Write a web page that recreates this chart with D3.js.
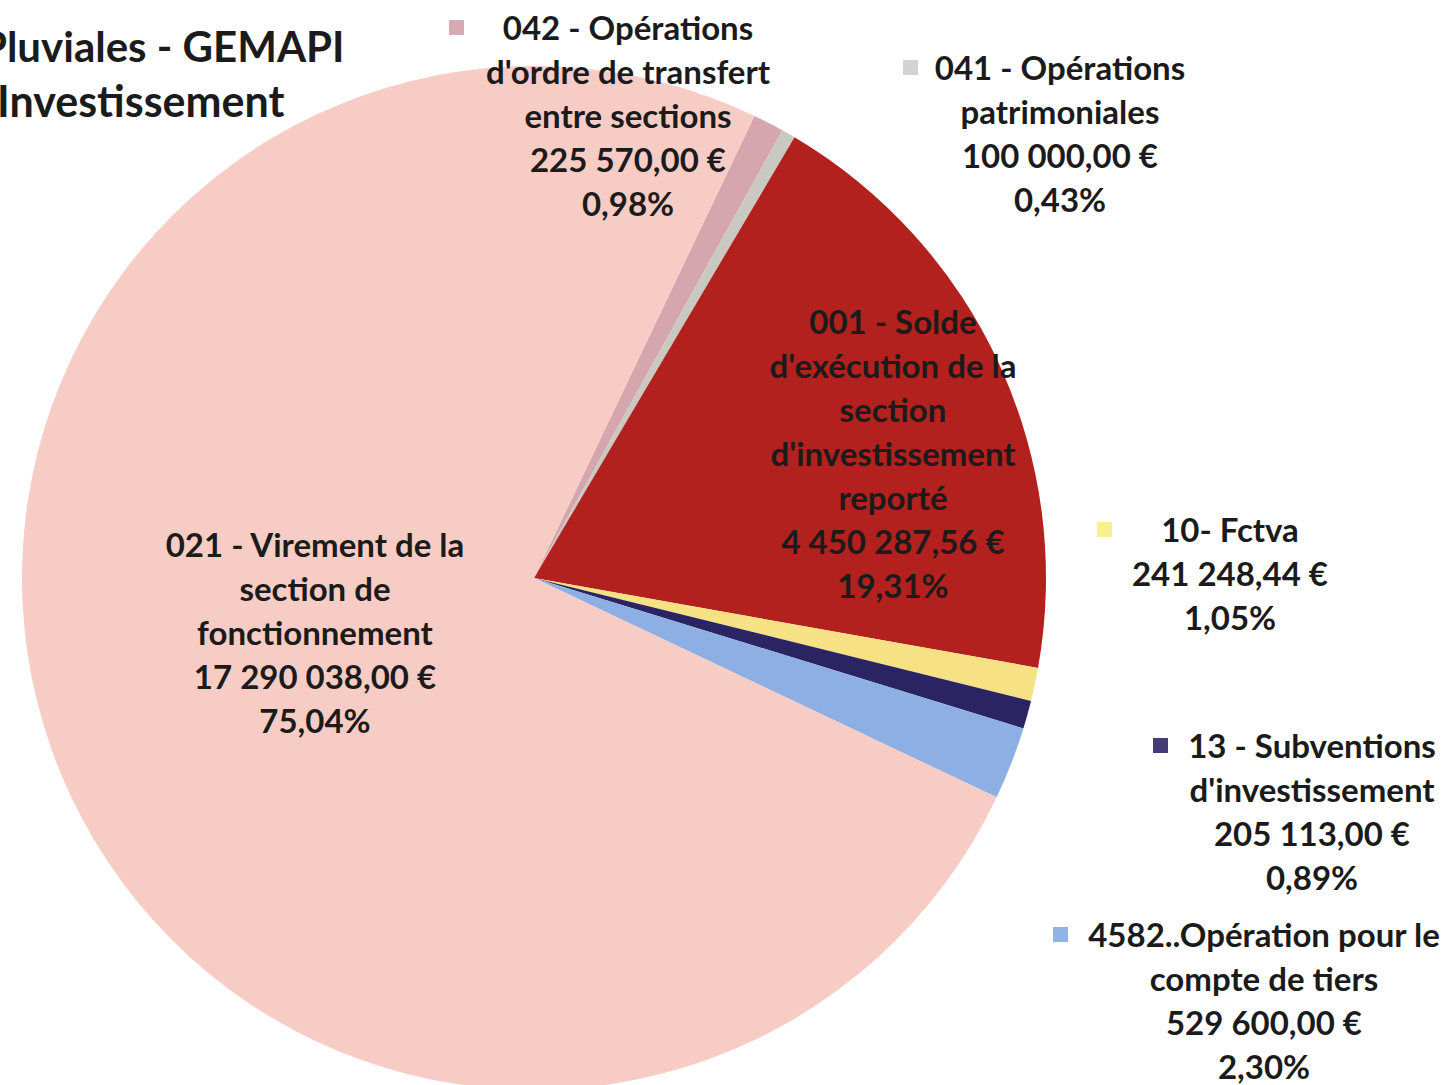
<!DOCTYPE html>
<html>
<head>
<meta charset="utf-8">
<script src="https://cdn.jsdelivr.net/npm/d3@7"></script>
<style>
  html, body { margin: 0; padding: 0; background: #fff; overflow: hidden; }
  svg text { font-family: Lato, "Open Sans", sans-serif; font-weight: 700; fill: #1b1b1b; }
</style>
</head>
<body>
<script>
// budget lines, in drawing order (clockwise)
const codes = ['042', '041', '001', '10', '13', '4582', '021']
const names = [
  ['042 - Opérations', "d'ordre de transfert", 'entre sections'],
  ['041 - Opérations', 'patrimoniales'],
  ['001 - Solde', "d'exécution de la", 'section', "d'investissement", 'reporté'],
  ['10- Fctva'],
  ['13 - Subventions', "d'investissement"],
  ['4582..Opération pour le', 'compte de tiers'],
  ['021 - Virement de la', 'section de', 'fonctionnement']
]
const amounts = [225570.00, 100000.00, 4450287.56, 241248.44, 205113.00, 529600.00, 17290038.00]
const amountLabels = ['225 570,00 €', '100 000,00 €', '4 450 287,56 €', '241 248,44 €', '205 113,00 €', '529 600,00 €', '17 290 038,00 €']
const pctLabels = ['0,98%', '0,43%', '19,31%', '1,05%', '0,89%', '2,30%', '75,04%']
const titleLines = ['Pluviales - GEMAPI', 'Investissement']

const colors = ['#d6a6ae', '#c9c9c1', '#b2211d', '#f6e184', '#2b2462', '#8eafe4', '#f7ccc5']
const markColors = ['#d7a9b5', '#d3d3d3', null, '#f8ef8e', '#463a78', '#92b2e8', null]
// label block: centre x, first line y, marker x (null = no marker)
const labelPos = [
  [628, 28, 449], [1060, 68, 903], [893, 322, null], [1230, 530, 1097],
  [1312, 746, 1153], [1264, 935, 1053], [315, 545, null]
]

const W = 1448, H = 1085
const cx = 534, cy = 578, r = 512
const lineH = 44

const svg = d3.select('body').append('svg').attr('width', W).attr('height', H)

const start = 25.5 * Math.PI / 180
const pie = d3.pie().sort(null).value(d => d).startAngle(start).endAngle(start + 2 * Math.PI)
const arc = d3.arc().innerRadius(0).outerRadius(r)

svg.append('g')
  .attr('transform', `translate(${cx}, ${cy})`)
  .selectAll('path')
  .data(pie(amounts))
  .enter()
  .append('path')
  .attr('d', arc)
  .attr('fill', (d, i) => colors[i])

// title (cut by the left edge in the source)
svg.append('g').selectAll('text')
  .data(titleLines)
  .enter()
  .append('text')
  .attr('x', (d, i) => i === 0 ? -19 : -3)
  .attr('y', (d, i) => 62 + i * 55)
  .attr('font-size', (d, i) => i === 0 ? 42 : 43)
  .text(d => d)

const labels = svg.append('g').selectAll('g')
  .data(codes)
  .enter()
  .append('g')

labels.each(function (code, i) {
  const g = d3.select(this)
  const [x, y0, mx] = labelPos[i]
  const lines = names[i].concat([amountLabels[i], pctLabels[i]])
  g.selectAll('text')
    .data(lines)
    .enter()
    .append('text')
    .attr('x', x)
    .attr('y', (d, j) => y0 + j * lineH)
    .attr('dy', '0.35em')
    .attr('text-anchor', 'middle')
    .attr('font-size', 33)
    .attr('fill', i === 2 ? '#0c0606' : '#1b1b1b')
    .text(d => d)
  if (mx !== null) {
    g.append('rect')
      .attr('x', mx)
      .attr('y', y0 - 8)
      .attr('width', 15)
      .attr('height', 15)
      .attr('fill', markColors[i])
  }
})
</script>
</body>
</html>
